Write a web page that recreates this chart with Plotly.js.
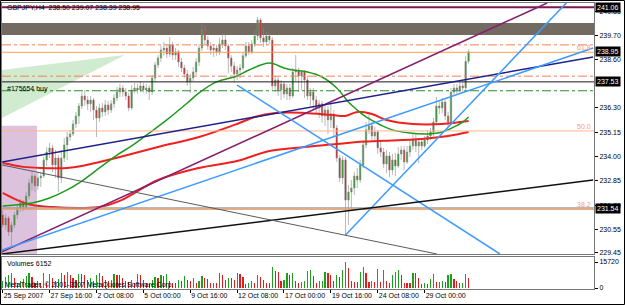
<!DOCTYPE html>
<html><head><meta charset="utf-8">
<script src="https://cdn.plot.ly/plotly-3.0.1.min.js"></script>
<style>html,body{margin:0;padding:0;background:#fff;}#chart{width:625px;height:305px;}</style>
</head><body><div id="chart"></div>
<script>
// ---------------- DATA ----------------
const symbolName = "GBPJPY,H4";
const tickBars = [0,16,32,48,64,80,96,112,128,144];
const tickLabels = ["25 Sep 2007","27 Sep 16:00","2 Oct 08:00","5 Oct 00:00","9 Oct 16:00","12 Oct 08:00","17 Oct 00:00","19 Oct 16:00","24 Oct 08:00","29 Oct 00:00"];
const priceTicks = [240.85,239.70,238.60,236.30,235.15,234.00,232.85,231.70,230.55,229.45];
const volumeTicks = [0,15720];

const opens = [231.24,230.76,231.09,230.43,230.76,231.24,231.57,231.80,231.61,232.13,
232.75,233.08,232.61,232.99,233.08,233.84,234.21,234.40,233.60,233.93,
232.99,233.93,234.55,234.92,235.07,235.54,235.92,236.39,236.86,236.67,
236.49,236.67,236.20,235.82,236.30,236.11,236.44,236.20,236.49,236.77,
237.05,237.24,237.05,236.86,236.30,237.15,237.24,237.15,237.34,237.15,
237.24,237.05,237.71,238.33,238.66,239.04,239.13,238.85,239.28,238.80,
238.95,238.47,238.19,237.90,237.53,237.71,238.00,238.47,239.13,239.99,
239.51,239.23,239.04,239.13,238.95,239.32,239.51,239.23,238.66,238.28,
237.90,238.09,238.19,238.76,239.23,238.95,239.32,239.70,240.46,239.61,
239.42,239.70,239.51,237.34,237.62,237.15,237.43,236.96,237.24,236.86,
238.00,238.09,237.81,238.00,237.62,236.86,237.05,236.67,236.30,236.49,
235.92,236.20,235.73,236.01,235.35,233.93,232.99,233.84,231.94,232.32,
232.51,233.08,232.89,233.60,234.55,235.26,235.45,234.97,235.16,234.40,
234.21,233.65,234.03,233.36,233.84,233.55,234.12,234.31,233.74,234.21,
234.50,234.78,234.50,234.69,234.50,234.78,234.97,235.16,235.63,236.39,
236.30,236.58,235.92,235.63,237.05,237.24,237.15,237.34,237.24,238.50];
const highs = [231.47,231.28,231.19,230.90,231.38,231.71,231.99,231.94,232.32,232.94,
233.27,233.17,233.27,233.27,233.98,234.45,234.64,234.55,234.31,234.07,
234.31,234.88,235.16,235.26,235.73,236.11,236.53,237.05,237.15,236.86,
236.86,236.77,236.39,236.49,236.53,236.67,236.63,236.67,236.96,237.29,
237.43,237.38,237.24,237.01,237.38,237.48,237.43,237.53,237.48,237.43,
237.38,237.86,238.47,238.80,239.23,239.42,239.32,239.65,239.42,239.13,
239.04,238.66,238.33,238.09,237.90,238.24,238.66,239.32,240.32,240.22,
239.70,239.42,239.32,239.28,239.61,239.84,239.80,239.32,238.80,238.47,
238.28,238.38,238.95,239.42,239.42,239.51,239.99,240.60,240.55,240.08,
239.89,239.84,239.65,237.81,237.76,237.62,237.53,237.43,237.43,238.19,
238.80,238.19,238.09,238.09,237.81,237.24,237.24,236.86,236.67,236.63,
236.49,236.39,236.53,236.20,235.49,234.07,234.03,233.98,232.65,232.89,
233.27,233.46,233.84,234.78,235.63,236.06,235.63,235.40,235.26,234.78,
234.40,234.31,234.21,234.12,234.17,234.45,234.50,234.50,234.50,234.78,
235.11,235.07,234.88,234.88,234.97,235.26,235.35,235.82,236.82,236.67,
236.77,236.67,236.11,237.24,237.43,237.43,237.53,237.53,238.76,239.07];
const lows = [230.62,230.53,230.24,229.72,230.62,231.05,231.38,231.42,231.52,231.99,
232.37,232.32,232.42,232.56,232.99,233.55,233.93,233.27,232.99,232.32,
232.75,233.74,233.84,234.74,234.97,235.35,235.54,236.25,236.39,236.20,
236.11,235.73,234.92,235.63,235.87,235.92,235.97,236.06,236.30,236.63,
236.82,236.82,236.67,236.15,236.20,237.01,236.96,237.05,237.01,236.96,
236.67,236.91,237.53,238.19,238.47,238.76,238.66,238.71,238.57,238.57,
238.24,238.00,237.71,237.34,237.01,237.57,237.86,238.28,238.99,239.28,
239.04,238.80,238.71,238.76,238.80,239.13,239.04,237.95,238.00,237.48,
237.62,237.71,238.09,238.66,238.80,238.85,239.18,239.51,239.37,239.18,
239.28,239.32,237.15,237.05,236.86,236.67,236.77,236.67,236.67,236.77,
237.53,237.05,237.15,236.77,236.67,236.39,236.20,236.01,235.82,235.59,
235.45,235.07,235.35,234.92,233.74,232.80,232.70,230.29,230.76,231.57,
232.18,232.51,232.75,233.46,234.40,235.07,234.78,234.69,234.12,233.98,
233.46,233.22,233.03,233.13,233.08,233.46,233.84,233.36,233.65,233.98,
234.31,234.21,233.69,234.31,234.40,234.59,234.78,234.97,235.54,236.01,
236.06,235.73,235.40,235.54,236.86,236.96,237.01,237.01,237.15,238.39];
const closes = [230.76,231.09,230.43,230.76,231.24,231.57,231.80,231.61,232.13,232.75,
233.08,232.61,232.99,233.08,233.84,234.21,234.40,233.60,233.93,232.99,
233.93,234.55,234.92,235.07,235.54,235.92,236.39,236.86,236.67,236.49,
236.67,236.20,235.82,236.30,236.11,236.44,236.20,236.49,236.77,237.05,
237.24,237.05,236.86,236.30,237.15,237.24,237.15,237.34,237.15,237.24,
237.05,237.71,238.33,238.66,239.04,239.13,238.85,239.28,238.80,238.95,
238.47,238.19,237.90,237.53,237.71,238.00,238.47,239.13,239.99,239.51,
239.23,239.04,239.13,238.95,239.32,239.51,239.23,238.66,238.28,237.90,
238.09,238.19,238.76,239.23,238.95,239.32,239.70,240.46,239.61,239.42,
239.70,239.51,237.34,237.62,237.15,237.43,236.96,237.24,236.86,238.00,
238.09,237.81,238.00,237.62,236.86,237.05,236.67,236.30,236.49,235.92,
236.20,235.73,236.01,235.35,233.93,232.99,233.84,231.94,232.32,232.51,
233.08,232.89,233.60,234.55,235.26,235.45,234.97,235.16,234.40,234.21,
233.65,234.03,233.36,233.84,233.55,234.12,234.31,233.74,234.21,234.50,
234.78,234.50,234.69,234.50,234.78,234.97,235.16,235.63,236.39,236.30,
236.58,235.92,235.63,237.05,237.24,237.15,237.34,237.24,238.50,238.95];
const volumes = [3980,6700,8150,8870,5790,3080,3980,5250,7060,8870,
6700,3080,3980,3080,8870,3080,8510,5790,3980,5250,
8870,8150,9410,7600,5790,4890,8510,8400,7600,4890,
5790,3980,7960,8870,7060,4890,3980,4890,8510,8150,
7600,5790,3980,3900,4890,3080,8510,7600,4890,3080,
2170,4890,6700,5790,7600,7500,8510,3980,3080,3000,
4890,3980,7060,4890,3980,5790,3080,3980,7060,5790,
5200,3080,3100,3000,8870,7600,4890,6330,5790,4890,
8870,8510,6700,2170,3080,3980,3080,8150,6700,4890,
3080,3000,12490,10320,9410,3980,4890,8870,8150,8900,
3980,3080,3440,3980,10320,10680,7060,3080,3980,4100,
9960,8870,8150,4530,8150,6700,10680,15720,12130,4530,
3620,3500,9960,12490,8870,3620,3980,3900,11770,3620,
10680,3980,3080,8150,9960,10680,8150,3080,3000,2950,
8870,8800,5790,2170,3080,2720,5250,8510,3620,3700,
3980,3440,8150,8200,5250,4530,3080,3150,8510,6152];

// moving averages, read at sample bars
const greenMaBars = [0,10,16,22,27,33,39,44,50,56,63,67,73,80,84,91,96,99,104,109,114,118,121,124,129,133,139,145,150,154,157,159];
const greenMaVals = [231.66,231.80,232.04,232.42,232.84,233.46,234.07,234.50,235.11,235.73,236.53,237.01,237.53,237.81,238.09,238.42,238.19,238.09,238.00,237.76,237.24,236.58,236.20,235.87,235.49,235.26,235.11,235.07,235.16,235.40,235.63,235.87];
const redMa1Bars = [0,7,13,22,27,33,40,53,67,80,86,93,103,112,117,121,126,131,140,150,159];
const redMa1Vals = [233.69,233.51,233.46,233.46,233.55,233.74,233.98,234.45,234.92,235.54,235.87,236.06,236.06,235.97,235.92,236.11,236.01,235.73,235.54,235.54,235.68];
const redMa2Bars = [0,5,10,17,28,33,40,53,67,80,91,103,114,121,130,143,152,159];
const redMa2Vals = [232.28,231.94,231.71,231.61,231.57,231.61,231.90,232.89,233.46,233.79,234.26,234.45,234.59,234.69,234.74,234.83,234.97,235.16];

// drawn objects (bar index / price anchors)
const trendStartBar = [-0.24,-0.24,-0.24,117,80,-0.24,-0.24];
const trendStartPrice = [229.49,233.74,229.58,230.29,237.38,229.39,233.60];
const trendEndBar = [185.8,201.5,201.5,192.6,169.7,201.5,148.2];
const trendEndPrice = [241.26,238.71,239.13,241.30,229.39,232.89,229.39];
const hLevels = [241.06,239.28,238.93,237.80,237.53,237.11,235.21,231.56,231.50];
const fibLevels = [238.93,235.21,231.50];
const fibLabels = ["61.8","50.0","38.2"];
const priceBoxes = [241.06,238.95,237.53,231.54];
const bandPrices = [239.75,240.32];
const boxBars = [-1,11.7];
const boxPrices = [229.0,235.45];
const triBars = [-0.24,41.7,-0.24];
const triPrices = [238.09,238.80,235.82];
const orderText = "#175654 buy";
const orderPrice = 237.53;

// ---------------- STYLE ----------------
const FONT = "'Liberation Sans', Arial, sans-serif";
const H = 305, L = 2, W = 592;
const py = p => 1 - p / H;
const trendColors = ['#86206e','#20208c','#3d9bff','#3d9bff','#3d9bff','#111111','#5a5a5a'];
const trendWidths = [1.5,1.5,1.5,1.5,1.5,1.5,1];
const hColors = ['#7d1750','#f4805a','#ff9a50','#f4805a','#1a1a1a','#2e8b2e','#ffb48c','#a0a0a0','#ff9a50'];
const hDash = ['solid','dashdot','solid','dashdot','solid','dashdot','solid','solid','solid'];
const hWidths = [2,1,1,1,1,1,1,1.5,1];

const bars = closes.map((_, i) => i);
const volColors = volumes.map((v, i) => (i === 0 || v > volumes[i-1]) ? '#1ea01e' : '#e01c1c');

const shapes = [];
shapes.push({type:'rect', xref:'x', yref:'y', x0:boxBars[0], x1:boxBars[1], y0:boxPrices[0], y1:boxPrices[1], fillcolor:'#dcc2dc', line:{width:0}, layer:'below'});
shapes.push({type:'path', xref:'x', yref:'y', path:`M ${triBars[0]},${triPrices[0]} L ${triBars[1]},${triPrices[1]} L ${triBars[2]},${triPrices[2]} Z`, fillcolor:'rgba(150,210,150,0.45)', line:{width:0}, layer:'below'});
shapes.push({type:'rect', xref:'paper', yref:'y', x0:0, x1:1, y0:bandPrices[0], y1:bandPrices[1], fillcolor:'#736b62', line:{width:0}, layer:'below'});
hLevels.forEach((p, k) => shapes.push({type:'line', xref:'paper', yref:'y', x0:0, x1:1, y0:p, y1:p, line:{color:hColors[k], width:hWidths[k], dash:hDash[k]}, layer:'above'}));
trendStartBar.forEach((b, k) => shapes.push({type:'line', xref:'x', yref:'y', x0:b, y0:trendStartPrice[k], x1:trendEndBar[k], y1:trendEndPrice[k], line:{color:trendColors[k], width:trendWidths[k]}, layer:'above'}));
// outer frame
shapes.push({type:'rect', xref:'paper', yref:'paper', x0:(0.5-L)/W, x1:(624.5-L)/W, y0:py(304.5), y1:py(0.5), line:{color:'#000', width:1}, fillcolor:'rgba(0,0,0,0)'});

const annotations = [];
const last = closes.length - 1;
annotations.push({xref:'paper', yref:'paper', x:0, xshift:3, xanchor:'left', y:py(7), yanchor:'middle', showarrow:false,
  text:`${symbolName}  ${opens[last].toFixed(2)} ${highs[last].toFixed(2)} ${lows[last].toFixed(2)} ${closes[last].toFixed(2)}`, font:{size:7, color:'#000'}});
annotations.push({xref:'paper', yref:'y', x:0, xshift:3, xanchor:'left', y:orderPrice, yanchor:'top', yshift:-1, showarrow:false, text:orderText, font:{size:7,color:'#000'}});
fibLevels.forEach((p, k) => annotations.push({xref:'paper', yref:'y', x:1, xanchor:'right', xshift:-1, y:p, yanchor:'bottom', yshift:-1, showarrow:false, text:fibLabels[k], font:{size:7,color:'#f4a070'}}));
priceBoxes.forEach(p => annotations.push({xref:'paper', yref:'y', x:1, xanchor:'left', xshift:1, y:p, yanchor:'middle', showarrow:false, text:p.toFixed(2), bgcolor:'#000', borderpad:1, font:{size:7,color:'#fff'}}));
annotations.push({xref:'paper', yref:'paper', x:0, xshift:3, xanchor:'left', y:py(263), yanchor:'middle', showarrow:false, text:`Volumes ${volumes[last]}`, font:{size:7,color:'#000'}});
annotations.push({xref:'paper', yref:'paper', x:0, xshift:1, xanchor:'left', y:py(285), yanchor:'middle', showarrow:false, text:'MetaTrader, © 2001-2007 MetaQuotes Software Corp.', font:{size:7,color:'#000'}});

const traces = [
  {type:'candlestick', x:bars, open:opens, high:highs, low:lows, close:closes, xaxis:'x', yaxis:'y',
   increasing:{line:{color:'#8a8a8a', width:0.6}, fillcolor:'#1e9e1e'},
   decreasing:{line:{color:'#8a8a8a', width:0.6}, fillcolor:'#d81818'},
   whiskerwidth:0, hoverinfo:'none'},
  {type:'scatter', mode:'lines', x:redMa1Bars, y:redMa1Vals, xaxis:'x', yaxis:'y', line:{color:'#f02020', width:2, shape:'spline'}, hoverinfo:'none'},
  {type:'scatter', mode:'lines', x:redMa2Bars, y:redMa2Vals, xaxis:'x', yaxis:'y', line:{color:'#f02020', width:2, shape:'spline'}, hoverinfo:'none'},
  {type:'scatter', mode:'lines', x:greenMaBars, y:greenMaVals, xaxis:'x', yaxis:'y', line:{color:'#1f9a1f', width:1.5, shape:'spline'}, hoverinfo:'none'},
  {type:'bar', x:bars, y:volumes, xaxis:'x2', yaxis:'y2', width:0.4, marker:{color:volColors, line:{width:0}}, hoverinfo:'none'}
];

const axisLine = {showline:true, mirror:true, linecolor:'#777', linewidth:1, showgrid:false, zeroline:false, fixedrange:true};
const layout = {
  width:625, height:305, margin:{l:L, r:31, t:0, b:0}, paper_bgcolor:'#fff', plot_bgcolor:'#fff',
  showlegend:false, font:{family:FONT, size:7, color:'#000'}, bargap:0,
  xaxis:Object.assign({domain:[0,1], range:[-0.24,201.8], anchor:'y', showticklabels:false, ticks:'', rangeslider:{visible:false}}, axisLine),
  yaxis:Object.assign({domain:[py(254), py(3)], range:[229.39,241.26], side:'right', anchor:'x', tickvals:priceTicks, ticktext:priceTicks.map(v=>v.toFixed(2)),
    ticks:'outside', ticklen:3, tickcolor:'#000', tickfont:{size:7, family:FONT, color:'#000'}}, axisLine),
  xaxis2:Object.assign({domain:[0,1], range:[-0.24,201.8], anchor:'y2', tickvals:tickBars, ticktext:tickLabels, ticks:'outside', ticklen:3, tickcolor:'#000',
    ticklabelposition:'outside right', tickangle:0, tickfont:{size:7, family:FONT, color:'#000'}}, axisLine),
  yaxis2:Object.assign({domain:[py(289), py(257)], range:[-600,18740], side:'right', anchor:'x2', tickvals:volumeTicks, ticktext:volumeTicks.map(String),
    ticks:'outside', ticklen:3, tickcolor:'#000', tickfont:{size:7, family:FONT, color:'#000'}}, axisLine),
  shapes:shapes, annotations:annotations
};
Plotly.newPlot('chart', traces, layout, {staticPlot:true, displayModeBar:false});
</script></body></html>
